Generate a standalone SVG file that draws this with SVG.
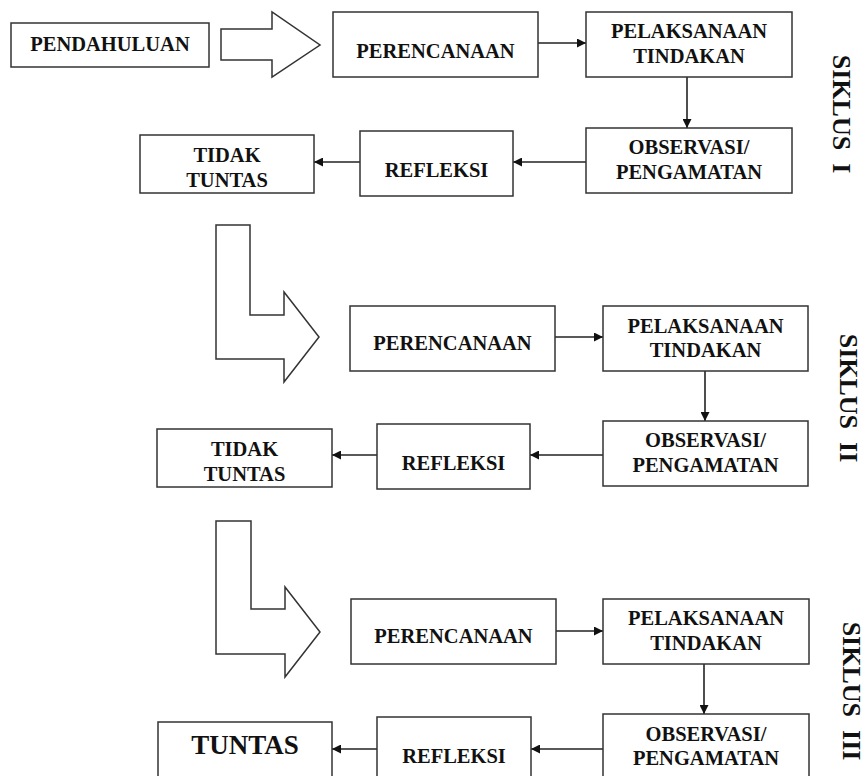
<svg xmlns="http://www.w3.org/2000/svg" width="865" height="776" viewBox="0 0 865 776">
<style>
.box{fill:#fff;stroke:#333;stroke-width:1.5}
.big{fill:#fff;stroke:#333;stroke-width:1.5;stroke-linejoin:miter}
.t{font-family:"Liberation Serif","Times New Roman",serif;font-weight:bold;font-size:20.5px;fill:#111;text-anchor:middle}
.s{font-family:"Liberation Serif","Times New Roman",serif;font-weight:bold;font-size:26px;fill:#111;text-anchor:middle}
.c{fill:none;stroke:#222;stroke-width:1.6;marker-end:url(#ah)}
</style>
<defs>
<marker id="ah" markerUnits="userSpaceOnUse" markerWidth="10" markerHeight="9" refX="9" refY="4.5" orient="auto">
<path d="M0,0 L9,4.5 L0,9 z" fill="#111"/>
</marker>
</defs>
<rect width="865" height="776" fill="#fff"/>

<g id="connectors">
<line class="c" x1="538" y1="43" x2="586" y2="43"/>
<line class="c" x1="687" y1="77" x2="687" y2="128"/>
<line class="c" x1="586" y1="162" x2="513" y2="162"/>
<line class="c" x1="360" y1="162" x2="314" y2="162"/>
<line class="c" x1="555" y1="337" x2="603" y2="337"/>
<line class="c" x1="705" y1="371" x2="705" y2="421"/>
<line class="c" x1="603" y1="455" x2="530" y2="455"/>
<line class="c" x1="377" y1="455" x2="332" y2="455"/>
<line class="c" x1="556" y1="631" x2="603" y2="631"/>
<line class="c" x1="704" y1="664" x2="704" y2="714"/>
<line class="c" x1="603" y1="749" x2="531" y2="749"/>
<line class="c" x1="377" y1="749" x2="332" y2="749"/>
</g>

<g id="bigarrow1"><polygon class="big" points="221,29 272,29 272,12 320,45 272,77 272,60 221,60"/></g>
<g id="bigarrow2"><polygon class="big" points="216,225 250,225 250,315 284,315 284,292 319,337 284,382 284,359 216,359"/></g>
<g id="bigarrow3"><polygon class="big" points="216,521 251,521 251,609 285,609 285,587 320,632 285,677 285,654 216,654"/></g>

<g id="pendahuluan"><rect class="box" x="11" y="23" width="198" height="44"/><text class="t" x="110" y="51">PENDAHULUAN</text></g>

<g id="perencanaan1"><rect class="box" x="333" y="12" width="205" height="65"/><text class="t" x="435.5" y="58">PERENCANAAN</text></g>
<g id="pelaksanaan1"><rect class="box" x="586" y="12" width="206" height="65"/><text class="t" x="689" y="38">PELAKSANAAN</text><text class="t" x="689" y="63">TINDAKAN</text></g>
<g id="observasi1"><rect class="box" x="586" y="128" width="206" height="65"/><text class="t" x="689" y="154">OBSERVASI/</text><text class="t" x="689" y="179">PENGAMATAN</text></g>
<g id="refleksi1"><rect class="box" x="360" y="131" width="153" height="65"/><text class="t" x="436.5" y="177">REFLEKSI</text></g>
<g id="tidak1"><rect class="box" x="140" y="135" width="174" height="58"/><text class="t" x="227" y="162">TIDAK</text><text class="t" x="227" y="187">TUNTAS</text></g>
<g id="siklus1"><text class="s" transform="translate(833,114) rotate(90)" xml:space="preserve">SIKLUS  I</text></g>

<g id="perencanaan2"><rect class="box" x="350" y="306" width="205" height="65"/><text class="t" x="452.5" y="350">PERENCANAAN</text></g>
<g id="pelaksanaan2"><rect class="box" x="603" y="306" width="205" height="65"/><text class="t" x="705.5" y="333">PELAKSANAAN</text><text class="t" x="705.5" y="357">TINDAKAN</text></g>
<g id="observasi2"><rect class="box" x="603" y="421" width="205" height="65"/><text class="t" x="705.5" y="447">OBSERVASI/</text><text class="t" x="705.5" y="472">PENGAMATAN</text></g>
<g id="refleksi2"><rect class="box" x="377" y="424" width="153" height="65"/><text class="t" x="453.5" y="470">REFLEKSI</text></g>
<g id="tidak2"><rect class="box" x="157" y="429" width="175" height="58"/><text class="t" x="244.5" y="456">TIDAK</text><text class="t" x="244.5" y="481">TUNTAS</text></g>
<g id="siklus2"><text class="s" transform="translate(840,398) rotate(90)" xml:space="preserve">SIKLUS  II</text></g>

<g id="perencanaan3"><rect class="box" x="351" y="599" width="205" height="65"/><text class="t" x="453.5" y="643">PERENCANAAN</text></g>
<g id="pelaksanaan3"><rect class="box" x="603" y="599" width="206" height="65"/><text class="t" x="706" y="625">PELAKSANAAN</text><text class="t" x="706" y="650">TINDAKAN</text></g>
<g id="observasi3"><rect class="box" x="603" y="714" width="206" height="66"/><text class="t" x="706" y="741">OBSERVASI/</text><text class="t" x="706" y="765">PENGAMATAN</text></g>
<g id="refleksi3"><rect class="box" x="377" y="717" width="154" height="66"/><text class="t" x="454" y="763">REFLEKSI</text></g>
<g id="tuntas"><rect class="box" x="158" y="722" width="174" height="60"/><text class="t" x="245" y="754" style="font-size:27px">TUNTAS</text></g>
<g id="siklus3"><text class="s" transform="translate(843,691) rotate(90)" xml:space="preserve">SIKLUS  III</text></g>
</svg>
